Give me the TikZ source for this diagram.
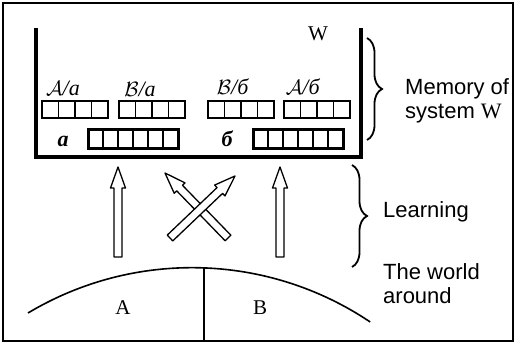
\documentclass[tikz,border=0pt]{standalone}
\usepackage{fontspec}
\setmainfont{Liberation Serif}
\newfontfamily\sidefont{Liberation Sans}
\usetikzlibrary{calc,decorations.pathreplacing}

% hollow block arrow from #1 (tail) to #2 (tip)
\newcommand\hollowarrow[2]{%
  \coordinate (#1hb) at ($(#2)!21pt!(#1)$);
  \draw[harrow]
    ($(#1)!4pt!90:(#2)$) -- ($(#1hb)!4pt!90:(#2)$) -- ($(#1hb)!7.5pt!90:(#2)$)
    -- (#2) -- ($(#1hb)!7.5pt!-90:(#2)$) -- ($(#1hb)!4pt!-90:(#2)$)
    -- ($(#1)!4pt!-90:(#2)$) -- cycle;}

\begin{document}
\begin{tikzpicture}[x=1pt,y=-1pt,
  frame/.style={line width=1.6pt},
  wall/.style={line width=3.2pt, line join=miter},
  cell/.style={line width=1.9pt},
  bigcell/.style={line width=3pt},
  thincell/.style={line width=1.9pt},
  harrow/.style={line width=1.3pt, fill=white, line join=round},
  curly/.style={line width=1.8pt, decorate, decoration={brace, amplitude=15pt}},
  ground/.style={line width=1.6pt},
  side/.style={font=\sidefont\fontsize{22}{24}\selectfont, align=left, inner sep=0pt},
  tag/.style={font=\fontsize{22}{22}\selectfont, inner sep=0pt},
  letter/.style={font=\fontsize{22}{22}\selectfont\bfseries\itshape, inner sep=0pt},
  region/.style={font=\fontsize{21}{21}\selectfont, inner sep=0pt},
]
\useasboundingbox (0,0) rectangle (516,345);
\draw[frame] (3,3) rectangle (513,341);

% memory container of system W
\coordinate (wtl) at (36,28);
\coordinate (wbl) at (36,157);
\coordinate (wbr) at (361,157);
\coordinate (wtr) at (361,28);
\draw[wall] (wtl) -- (wbl) -- (wbr) -- (wtr);
\node[region] (wname) at (318,34) {W};

% four-cell registers
\foreach \gx in {42,119,208,284} {
  \draw[cell] (\gx,101) rectangle ++(66,17);
  \foreach \i in {1,2,3} \draw[cell] (\gx+16.5*\i,101) -- ++(0,17);
}
\node[tag, anchor=base] (aa) at (63,95) {$\mathcal{A}$\textit{/a}};
\node[tag, anchor=base] (ba) at (140,96) {$\mathcal{B}$\textit{/a}};
\node[tag, anchor=base] (bb) at (233,94) {$\mathcal{B}$\textit{/б}};
\node[tag, anchor=base] (ab) at (303,94) {$\mathcal{A}$\textit{/б}};

% six-cell registers
\foreach \gx in {88,253} {
  \foreach \i in {1,...,5} \draw[thincell] (\gx+15*\i,129) -- ++(0,19);
  \draw[bigcell] (\gx,129) rectangle ++(90,19);
}
\node[letter, anchor=base] (la) at (63,146) {a};
\node[letter, anchor=base] (lb) at (227,146) {б};

% braces and side captions
\coordinate (m1) at (367,38);
\coordinate (m2) at (367,140);
\draw[curly] (m1) -- (m2);
\node[side, anchor=base west] (mem) at (405,118) {Memory of\\system {\rmfamily W}};

\coordinate (l1) at (352,165);
\coordinate (l2) at (352,267);
\draw[curly] (l1) -- (l2);
\node[side, anchor=base west] (learn) at (383,217) {Learning};
\node[side, anchor=base west] (world) at (383,303) {The world\\around};

% learning arrows
\coordinate (t1) at (118,257); \coordinate (h1) at (118,167);
\coordinate (t2) at (280,257); \coordinate (h2) at (280,167);
\coordinate (t3) at (228,238); \coordinate (h3) at (165,173);
\coordinate (t4) at (170,238); \coordinate (h4) at (235,176);
\hollowarrow{t1}{h1}
\hollowarrow{t2}{h2}
\hollowarrow{t3}{h3}
\hollowarrow{t4}{h4}

% the world around: two regions under an arc
\coordinate (g1) at (28,313);
\coordinate (gtop) at (204,268);
\coordinate (gbot) at (204,341);
\draw[ground] (g1) arc[start angle=-120.9, end angle=-56.1, radius=319.4];
\draw[ground] (gtop) -- (gbot);
\node[region] (A) at (123,308) {A};
\node[region] (B) at (260,308) {B};
\end{tikzpicture}
\end{document}
